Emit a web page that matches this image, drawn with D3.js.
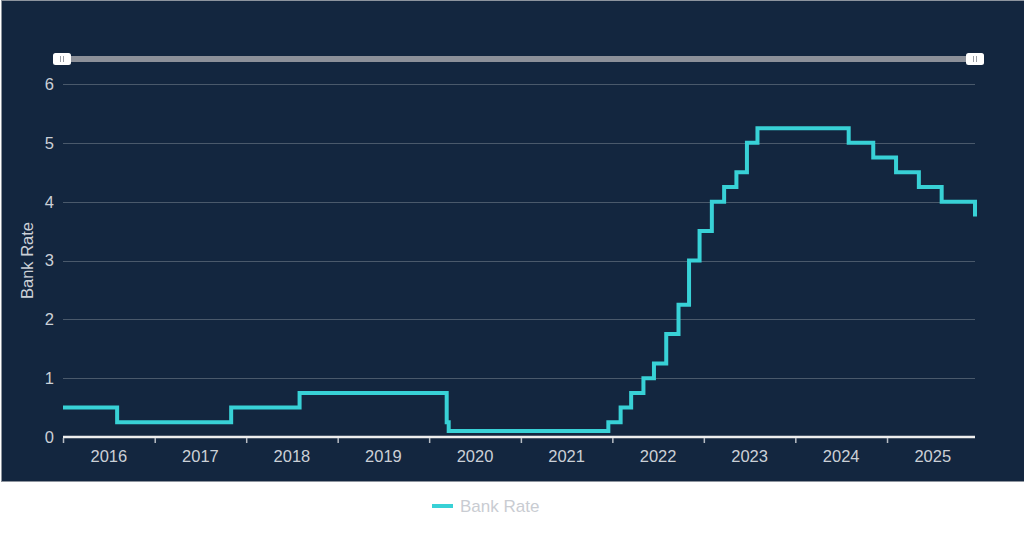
<!DOCTYPE html>
<html>
<head>
<meta charset="utf-8">
<script src="https://cdn.jsdelivr.net/npm/d3@7"></script>
<style>
  html, body { margin: 0; padding: 0; background: #ffffff; }
  svg { display: block; font-family: "Liberation Sans", Arial, sans-serif; }
</style>
</head>
<body>
<svg id="chart" width="1024" height="545"></svg>
<script>
// ---- data ----
const changeDates = ["2016-01-01","2016-08-04","2017-11-02","2018-08-02","2020-03-11","2020-03-19",
  "2021-12-16","2022-02-03","2022-03-17","2022-05-05","2022-06-16","2022-08-04","2022-09-22",
  "2022-11-03","2022-12-15","2023-02-02","2023-03-23","2023-05-11","2023-06-22","2023-08-03",
  "2024-08-01","2024-11-07","2025-02-06","2025-05-08","2025-08-07","2025-12-18"];
const bankRates = [0.5,0.25,0.5,0.75,0.25,0.1,
  0.25,0.5,0.75,1,1.25,1.75,2.25,
  3,3.5,4,4.25,4.5,5,5.25,
  5,4.75,4.5,4.25,4,3.75];
const yTicks = [0,1,2,3,4,5,6];
const yearLabels = ["2016","2017","2018","2019","2020","2021","2022","2023","2024","2025"];
const seriesName = "Bank Rate";

// ---- layout ----
const plotL = 63, plotR = 975, plotT = 84, plotB = 437;
const svg = d3.select("#chart");
const parse = d3.timeParse("%Y-%m-%d");
const pts = changeDates.map((d, i) => ({ date: parse(d), value: bankRates[i] }));

// background panel
svg.append("rect").attr("x", 1.5).attr("y", 0.5).attr("width", 1030).attr("height", 481)
  .attr("fill", "#13263f").attr("stroke", "#8d949e").attr("stroke-width", 1);

const x = d3.scaleTime().domain([pts[0].date, pts[pts.length - 1].date]).range([plotL, plotR]);
const y = d3.scaleLinear().domain([0, 6]).range([plotB, plotT]);

const textColor = "#cbd0d7";

// grid lines
svg.append("g").selectAll("line").data(yTicks.filter(v => v > 0)).join("line")
  .attr("x1", plotL).attr("x2", plotR)
  .attr("y1", d => Math.round(y(d)) + 0.5).attr("y2", d => Math.round(y(d)) + 0.5)
  .attr("stroke", "#4a596b").attr("stroke-width", 1);

// y axis labels
svg.append("g").selectAll("text").data(yTicks).join("text")
  .attr("x", 54).attr("y", d => y(d)).attr("dy", "0.36em")
  .attr("text-anchor", "end").attr("fill", textColor).attr("font-size", 16.5)
  .text(d => d);

// y axis title
svg.append("text").attr("transform", `translate(33,${y(3)}) rotate(-90)`)
  .attr("text-anchor", "middle").attr("fill", textColor).attr("font-size", 16.5)
  .text(seriesName);

// x axis
const yearStarts = yearLabels.map(yr => new Date(+yr, 0, 1));
const xAxis = d3.axisBottom(x).tickValues(yearStarts).tickSize(6).tickFormat("");
const gx = svg.append("g").attr("transform", `translate(0,${plotB})`).call(xAxis);
gx.select(".domain").attr("stroke", "#eeeeee").attr("stroke-width", 2.5).attr("d", `M${plotL},0H${plotR}`);
gx.selectAll(".tick line").attr("stroke", "#b8bdc4").attr("stroke-width", 1.5).attr("y1", 1);

// year labels at mid-year
svg.append("g").selectAll("text").data(yearLabels).join("text")
  .attr("x", d => {
    const a = x(new Date(+d, 0, 1));
    const b = Math.min(x(new Date(+d + 1, 0, 1)), plotR + 20);
    return (a + b) / 2;
  })
  .attr("y", 462).attr("text-anchor", "middle")
  .attr("fill", textColor).attr("font-size", 16.5).text(d => d);

// line
const line = d3.line().x(d => x(d.date)).y(d => y(d.value)).curve(d3.curveStepAfter);
svg.append("path").datum(pts).attr("d", line)
  .attr("fill", "none").attr("stroke", "#38d1d6").attr("stroke-width", 4)
  .attr("stroke-linejoin", "miter");

// data zoom slider
svg.append("rect").attr("x", plotL - 1).attr("y", 56).attr("width", plotR - plotL + 2).attr("height", 6)
  .attr("fill", "#8c9099");
[plotL - 1, plotR].forEach(cx => {
  const g = svg.append("g").attr("transform", `translate(${cx},59)`);
  g.append("rect").attr("x", -9).attr("y", -6).attr("width", 18).attr("height", 12)
    .attr("rx", 2.5).attr("fill", "#ffffff");
  g.append("line").attr("x1", -1.5).attr("x2", -1.5).attr("y1", -3).attr("y2", 3)
    .attr("stroke", "#9a9ea6").attr("stroke-width", 1);
  g.append("line").attr("x1", 1.5).attr("x2", 1.5).attr("y1", -3).attr("y2", 3)
    .attr("stroke", "#9a9ea6").attr("stroke-width", 1);
});

// legend
const lg = svg.append("g");
lg.append("line").attr("x1", 432).attr("x2", 453).attr("y1", 506).attr("y2", 506)
  .attr("stroke", "#38d1d6").attr("stroke-width", 4);
lg.append("text").attr("x", 460).attr("y", 512).attr("fill", "#c9ccd2").attr("font-size", 17)
  .text(seriesName);
</script>
</body>
</html>
